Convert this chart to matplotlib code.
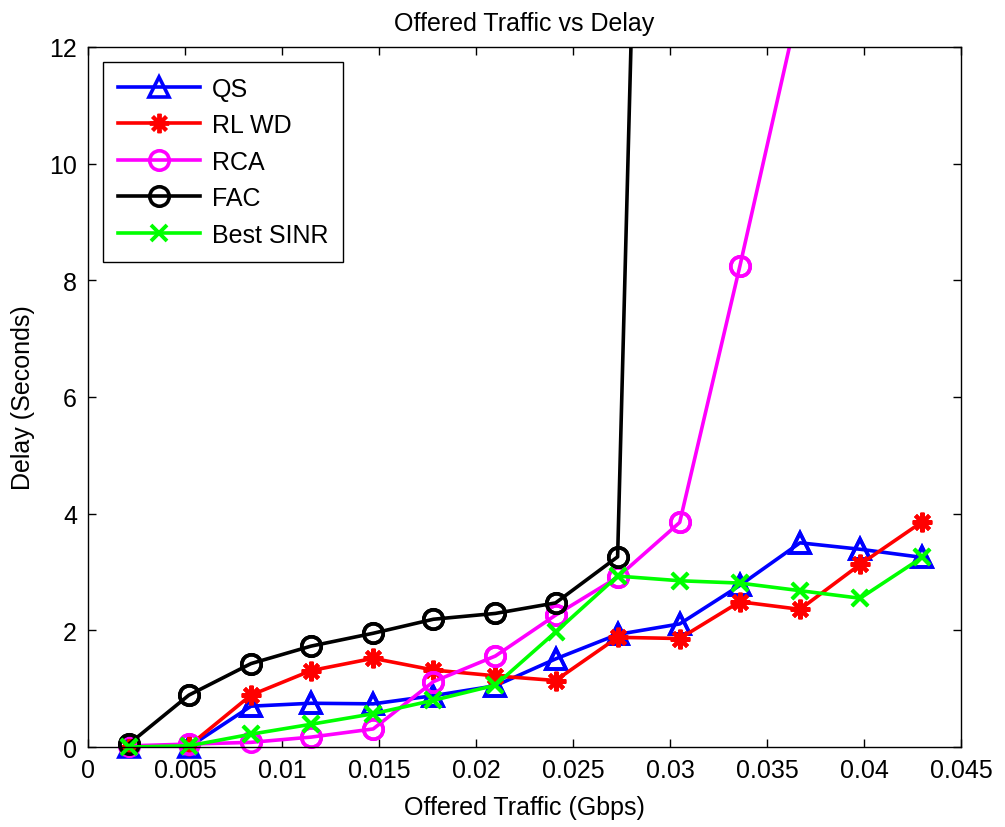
import numpy as np
import matplotlib
matplotlib.use('Agg')
import matplotlib.pyplot as plt
from matplotlib.ticker import FixedLocator, FixedFormatter

plt.rcParams['font.family'] = ['Liberation Sans', 'DejaVu Sans']
plt.rcParams['font.size'] = 18

# offered traffic (Gbps) at each simulation point
traffic = [0.0021, 0.0052, 0.0084, 0.0115, 0.0147, 0.0178, 0.0210,
           0.0241, 0.0273, 0.0305, 0.0336, 0.0367, 0.0398, 0.0430]

# delay (seconds) per scheme
qs = [0.0, 0.0, 0.70, 0.75, 0.74, 0.88, 1.05,
      1.51, 1.93, 2.11, 2.77, 3.50, 3.39, 3.25]
rl_wd = [0.0, 0.02, 0.89, 1.31, 1.52, 1.32, 1.22,
         1.14, 1.88, 1.86, 2.49, 2.36, 3.13, 3.86]
rca = [0.02, 0.05, 0.08, 0.17, 0.31, 1.12, 1.56,
       2.26, 2.91, 3.85, 8.24, 12.8]
fac = [0.05, 0.89, 1.43, 1.73, 1.95, 2.19, 2.29,
       2.47, 3.26, 44.0]
best_sinr = [0.0, 0.02, 0.22, 0.39, 0.57, 0.80, 1.06,
             1.97, 2.93, 2.85, 2.81, 2.68, 2.55, 3.25]

xticks = [0, 0.005, 0.01, 0.015, 0.02, 0.025, 0.03, 0.035, 0.04, 0.045]
xtick_labels = ['0', '0.005', '0.01', '0.015', '0.02', '0.025', '0.03',
                '0.035', '0.04', '0.045']
yticks = [0, 2, 4, 6, 8, 10, 12]

series = [
    ('QS', qs, (0, 0, 1), '^', 15, 2.6),
    ('RL WD', rl_wd, (1, 0, 0), (8, 2, 0), 14, 2.8),
    ('RCA', rca, (1, 0, 1), 'o', 14, 2.6),
    ('FAC', fac, (0, 0, 0), 'o', 14, 2.6),
    ('Best SINR', best_sinr, (0, 1, 0), 'x', 11, 2.8),
]

fig = plt.figure(figsize=(10.05, 8.28), dpi=100)
ax = fig.add_axes([0.0876, 0.0966, 0.8686, 0.8455])

for name, vals, col, mk, ms, mew in series:
    x = np.array(traffic[:len(vals)])
    y = np.array(vals)
    ax.plot(x, y, color=col, lw=2.6, marker=mk, ms=ms, mew=mew,
            mfc='none', mec=col, label=name)
    # markers on the axis edge are not clipped in the original
    keep = y <= 12
    ax.plot(x[keep], y[keep], ls='none', marker=mk, ms=ms, mew=mew,
            mfc='none', mec=col, clip_on=False)

ax.set_xlim(0, 0.045)
ax.set_ylim(0, 12)
ax.xaxis.set_major_locator(FixedLocator(xticks))
ax.xaxis.set_major_formatter(FixedFormatter(xtick_labels))
ax.set_yticks(yticks)
ax.tick_params(direction='in', top=True, right=True, length=6, width=1,
               labelsize=18, pad=8)
for s in ax.spines.values():
    s.set_linewidth(1.0)

ax.set_title('Offered Traffic vs Delay', fontsize=18, pad=12)
ax.set_xlabel('Offered Traffic (Gbps)', fontsize=18, labelpad=9)
ax.set_ylabel('Delay (Seconds)', fontsize=18, labelpad=10)

leg = ax.legend(loc='upper left', bbox_to_anchor=(0.017, 0.979),
                borderaxespad=0, fancybox=False, edgecolor='black',
                framealpha=1, handlelength=3.3, handletextpad=0.45,
                labelspacing=0.5, borderpad=0.6, fontsize=18)
leg.get_frame().set_linewidth(1.0)

fig.savefig('out.png', dpi=100, facecolor='white')
